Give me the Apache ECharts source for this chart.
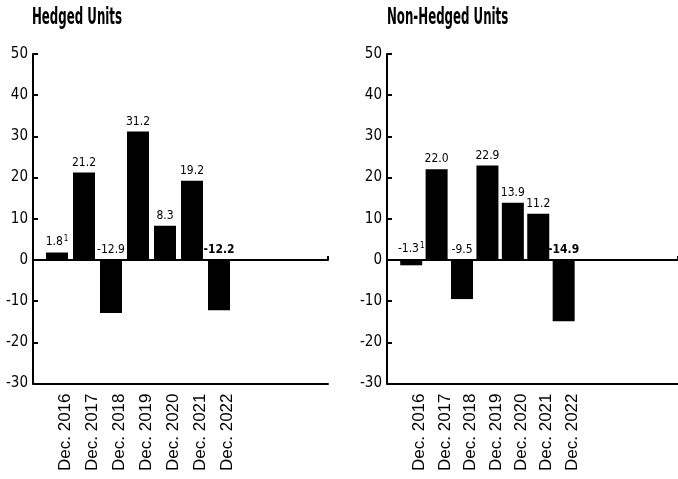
<!DOCTYPE html>
<html>
<head>
<meta charset="utf-8">
<script src="https://cdn.jsdelivr.net/npm/echarts@6/dist/echarts.min.js"></script>
<style>
  html, body { margin: 0; padding: 0; background: #fff; }
  #chart { width: 678px; height: 479px; }
</style>
</head>
<body>
<div id="chart"></div>
<script>
// Year-end changes for hedged and non-hedged units
const categories = ['Dec. 2016', 'Dec. 2017', 'Dec. 2018', 'Dec. 2019', 'Dec. 2020', 'Dec. 2021', 'Dec. 2022'];
const hedgedValues = [1.8, 21.2, -12.9, 31.2, 8.3, 19.2, -12.2];
const nonHedgedValues = [-1.3, 22.0, -9.5, 22.9, 13.9, 11.2, -14.9];
const footnotes = ['1', '', '', '', '', '', ''];
const panelTitles = ['Hedged Units', 'Non-Hedged Units'];
const yTicks = { min: -30, max: 50, step: 10 };

const narrow = "'DejaVu Sans Condensed', 'Liberation Sans Narrow', sans-serif";
const plain = "'Liberation Sans', Arial, sans-serif";

// empty slots to the right of the last year keep the bar spacing
const slots = categories.concat(['', '', '', '']);

const chart = echarts.init(document.getElementById('chart'), null, { renderer: 'canvas' });

// frame grid (axes) and bar grid for each panel
const panels = [
  { frame: { left: 33, top: 54, width: 295, height: 329.5 }, bars: { left: 43.5, top: 54, width: 297, height: 329.5 }, values: hedgedValues, titleX: 32 },
  { frame: { left: 387, top: 54, width: 291, height: 329.5 }, bars: { left: 398.5, top: 54, width: 297, height: 329.5 }, values: nonHedgedValues, titleX: 387 }
];

const grid = [], xAxis = [], yAxis = [], series = [], graphic = [];
const lastIdx = categories.length - 1;

panels.forEach((p, k) => {
  const gFrame = grid.length;
  grid.push(Object.assign({ containLabel: false }, p.frame));
  const gBars = grid.length;
  grid.push(Object.assign({ containLabel: false }, p.bars));

  // panel heading in a tall condensed face
  graphic.push({
    type: 'text', x: p.titleX, y: 7, scaleX: 0.57, silent: true,
    style: { text: panelTitles[k], fill: '#000', font: "bold 23px 'DejaVu Sans Condensed', sans-serif", verticalAlign: 'top' }
  });

  // visible y axis
  const yFrame = yAxis.length;
  yAxis.push({
    gridIndex: gFrame, type: 'value', min: yTicks.min, max: yTicks.max, interval: yTicks.step,
    axisLine: { show: true, onZero: false, lineStyle: { color: '#000', width: 2 } },
    axisTick: { show: true, inside: true, length: 5, lineStyle: { color: '#000', width: 2 } },
    axisLabel: { margin: 5, color: '#000', fontFamily: narrow, fontSize: 15 },
    splitLine: { show: false }
  });
  // hidden y axis sharing the range for the bars
  const yBars = yAxis.length;
  yAxis.push({
    gridIndex: gBars, type: 'value', min: yTicks.min, max: yTicks.max, interval: yTicks.step,
    axisLine: { show: false }, axisTick: { show: false }, axisLabel: { show: false }, splitLine: { show: false }
  });

  // bottom line of the frame
  xAxis.push({
    gridIndex: gFrame, type: 'value', min: 0, max: 1, position: 'bottom',
    axisLine: { show: true, onZero: false, lineStyle: { color: '#000', width: 2 } },
    axisTick: { show: false }, axisLabel: { show: false }, splitLine: { show: false }
  });
  // zero baseline with an end tick
  xAxis.push({
    gridIndex: gFrame, type: 'value', min: 0, max: 1, interval: 1, position: 'top',
    axisLine: { show: true, onZero: true, onZeroAxisIndex: yFrame, lineStyle: { color: '#000', width: 2 } },
    axisTick: { show: true, inside: false, length: 4, lineStyle: { color: '#000', width: 2 } },
    axisLabel: { show: false }, splitLine: { show: false }
  });
  // category axis carrying the bars and the year labels
  const xBars = xAxis.length;
  xAxis.push({
    gridIndex: gBars, type: 'category', data: slots, boundaryGap: true, position: 'bottom',
    axisLine: { show: false, onZero: false }, axisTick: { show: false },
    axisLabel: {
      interval: 0, rotate: 90, margin: 10, verticalAlign: 'top',
      color: '#000', fontFamily: plain, fontSize: 17
    },
    splitLine: { show: false }
  });

  series.push({
    type: 'bar', xAxisIndex: xBars, yAxisIndex: yBars,
    data: p.values, barWidth: 22,
    itemStyle: { color: '#000' },
    label: {
      show: true, position: 'top', distance: 4, color: '#000',
      fontFamily: narrow, fontSize: 12,
      formatter: (d) => {
        const txt = d.value.toFixed(1);
        if (d.dataIndex === lastIdx) return '{b|' + txt + '}';
        if (footnotes[d.dataIndex]) return '{n|' + txt + '}{s|' + footnotes[d.dataIndex] + '}';
        return txt;
      },
      rich: {
        b: { fontFamily: narrow, fontSize: 12, fontWeight: 'bold', color: '#000' },
        n: { fontFamily: narrow, fontSize: 12, color: '#000' },
        s: { fontFamily: narrow, fontSize: 8, color: '#000', verticalAlign: 'top', padding: [0, 0, 6, 1] }
      }
    },
    animation: false
  });
});

chart.setOption({
  animation: false,
  backgroundColor: '#fff',
  graphic, grid, xAxis, yAxis, series
});
</script>
</body>
</html>
